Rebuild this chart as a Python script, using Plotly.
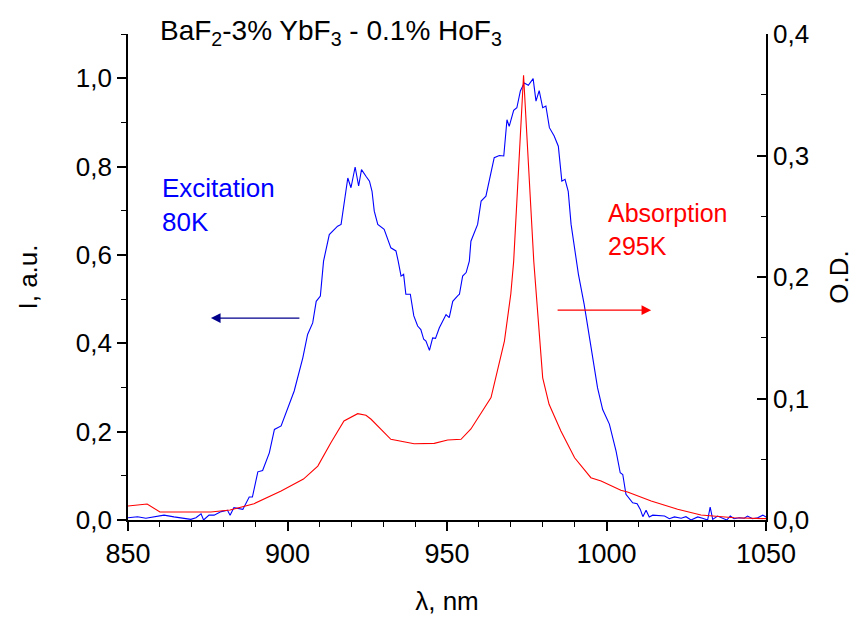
import plotly.graph_objects as go

# Excitation spectrum (80K), left axis, I (a.u.)
exc_wl = [850, 853, 855.6, 858, 861.3, 864.4, 867.5, 869.7, 871.3, 872.9, 873.7, 875.4, 877, 879.2,
          881.2, 882, 883.2, 886, 888, 889, 890.7, 892.2, 894.3, 895.9, 898, 900, 902.1, 904.8,
          906.3, 907.9, 909, 910.3, 911.3, 913.1, 915.7, 916.8, 918.9, 919.9, 921.2, 922.3, 923.2,
          924.6, 925.7, 926.5, 927.2, 928.3, 930.3, 932.4, 934, 934.7, 935.6, 936.4, 937.1, 938.5,
          939.6, 940.8, 941.8, 942.7, 943.4, 944.5, 945.5, 946.4, 947.6, 949.2, 949.7, 950.7, 951.8,
          953.4, 953.9, 954.9, 956, 957, 957.5, 959.6, 960.7, 962.2, 963.3, 964.8, 966.4, 967.8,
          968.8, 969.5, 970.9, 971.9, 973, 974.2, 975.5, 977, 977.9, 978.9, 980, 981, 982.1, 983.6,
          984.9, 986, 987, 988, 988.9, 990.4, 991.2, 993, 995.1, 997.2, 998.8, 1000.9, 1003, 1004.3,
          1005.1, 1006.1, 1008.2, 1009.6, 1010.6, 1011.4, 1012.4, 1013.4, 1014.5, 1016.6, 1018.2,
          1019.7, 1021.3, 1023.4, 1024.9, 1026.5, 1028.6, 1030.1, 1031.7, 1032.5, 1033.3, 1034.8,
          1036.4, 1037.7, 1038.8, 1040, 1041.6, 1043.2, 1044.2, 1045.8, 1047.4, 1049, 1050]
exc_int = [0.005, 0.0075, 0.004, 0.007, 0.011, 0.007, 0.003, 0.0015, 0.005, 0.014, 0.0, 0.011, 0.011,
           0.019, 0.022, 0.011, 0.028, 0.024, 0.052, 0.052, 0.109, 0.112, 0.152, 0.205, 0.213, 0.254,
           0.292, 0.367, 0.42, 0.446, 0.495, 0.507, 0.586, 0.646, 0.665, 0.669, 0.774, 0.752, 0.799,
           0.756, 0.793, 0.778, 0.767, 0.744, 0.699, 0.669, 0.658, 0.616, 0.609, 0.586, 0.552, 0.556,
           0.511, 0.511, 0.462, 0.439, 0.431, 0.409, 0.405, 0.384, 0.412, 0.411, 0.435, 0.458, 0.465,
           0.458, 0.495, 0.508, 0.511, 0.552, 0.56, 0.586, 0.631, 0.669, 0.722, 0.733, 0.767, 0.82,
           0.825, 0.824, 0.906, 0.891, 0.927, 0.933, 0.971, 0.989, 0.984, 0.999, 0.948, 0.972, 0.933,
           0.937, 0.888, 0.869, 0.846, 0.767, 0.771, 0.744, 0.669, 0.6, 0.556, 0.488, 0.397, 0.299,
           0.25, 0.217, 0.156, 0.107, 0.103, 0.058, 0.039, 0.037, 0.024, 0.0075, 0.022, 0.007, 0.011,
           0.009, 0.009, 0.003, 0.007, 0.004, 0.0075, 0.0, 0.007, 0.004, 0.0, 0.029, 0.0015, 0.009,
           0.005, 0.0, 0.009, 0.003, 0.005, 0.004, 0.009, 0.003, 0.005, 0.011, 0.007]

# Absorption spectrum (295K), right axis, O.D.
abs_wl = [850, 856, 860, 876, 882, 889.5, 898, 905, 909.5, 913.6, 917.7, 922, 924.6, 926.2, 932.4,
          939.7, 946, 950.2, 954.4, 957.5, 963.8, 968, 970, 970.9, 974, 977.2, 980, 982, 985.7, 990,
          995.1, 998.3, 1004.5, 1006.6, 1014, 1022.3, 1029.6, 1040, 1050]
abs_od = [0.0115, 0.0132, 0.0066, 0.0066, 0.0082, 0.0134, 0.0239, 0.0337, 0.0444, 0.0636, 0.0815,
          0.0875, 0.0862, 0.0829, 0.0664, 0.0628, 0.0631, 0.0658, 0.0664, 0.0749, 0.1007, 0.1473,
          0.186, 0.213, 0.366, 0.213, 0.117, 0.0952, 0.0733, 0.0512, 0.0348, 0.0321, 0.0245, 0.023,
          0.0156, 0.0088, 0.0041, 0.0019, 0.0011]

x_ticks = [850, 900, 950, 1000, 1050]

FONT = "Liberation Sans, Arial, sans-serif"
FS = 25

fig = go.Figure()
fig.add_trace(go.Scatter(x=exc_wl, y=exc_int, mode="lines",
                         line=dict(color="#0000FF", width=1.1), yaxis="y", showlegend=False))
fig.add_trace(go.Scatter(x=abs_wl, y=abs_od, mode="lines",
                         line=dict(color="#FF0000", width=1.1), yaxis="y2", showlegend=False))

axis_common = dict(showgrid=False, zeroline=False, showline=True, linecolor="black", linewidth=1.6,
                   tickcolor="black", tickwidth=1.6, ticklen=9)

fig.update_layout(
    width=858, height=620,
    margin=dict(l=120, r=100, t=26, b=108),
    paper_bgcolor="white", plot_bgcolor="white",
    separators=",.",
    font=dict(family=FONT, size=FS, color="black"),
    xaxis=dict(range=[850, 1050], tickvals=x_ticks, ticks="outside",
               tickfont=dict(family=FONT, size=27, color="black"),
               minor=dict(dtick=10, ticks="outside", ticklen=5, tickwidth=1.4, tickcolor="black"),
               title=dict(text="λ, nm", font=dict(family=FONT, size=26), standoff=24),
               **axis_common),
    yaxis=dict(range=[0, 1.1], dtick=0.2, tick0=0, tickformat=".1f", ticks="outside",
               tickfont=dict(family=FONT, size=26, color="black"),
               minor=dict(dtick=0.1, ticks="outside", ticklen=5, tickwidth=1.4, tickcolor="black"),
               title=dict(text="I, a.u.", font=dict(family=FONT, size=26), standoff=31),
               **axis_common),
    yaxis2=dict(range=[0, 0.4], dtick=0.1, tick0=0, tickformat=".1f", ticks="inside",
                overlaying="y", side="right", anchor="x",
                tickfont=dict(family=FONT, size=26, color="black"),
                minor=dict(dtick=0.05, ticks="inside", ticklen=5, tickwidth=1.4, tickcolor="black"),
                title=dict(text="O.D.", font=dict(family=FONT, size=26), standoff=22),
                **axis_common),
)

annotations = [
    dict(text="BaF<sub>2</sub>-3% YbF<sub>3</sub> - 0.1% HoF<sub>3</sub>", xref="x", yref="paper",
         x=859.3, y=1.004, xanchor="left", yanchor="middle", showarrow=False,
         font=dict(family=FONT, size=28, color="black")),
    dict(text="Excitation<br>80K", xref="x", yref="y", x=860, y=0.713, xanchor="left",
         yanchor="middle", align="left", showarrow=False,
         font=dict(family=FONT, size=26, color="#0000FF")),
    dict(text="Absorption<br>295K", xref="x", yref="y", x=999.8, y=0.658, xanchor="left",
         yanchor="middle", align="left", showarrow=False,
         font=dict(family=FONT, size=25, color="#FF0000")),
    dict(text="", xref="x", yref="y", x=876, y=0.457, axref="x", ayref="y", ax=904.2, ay=0.457,
         showarrow=True, arrowhead=2, arrowsize=1.6, arrowwidth=1.2, arrowcolor="#00008B"),
    dict(text="", xref="x", yref="y", x=1014, y=0.475, axref="x", ayref="y", ax=984.2, ay=0.475,
         showarrow=True, arrowhead=2, arrowsize=1.6, arrowwidth=1.2, arrowcolor="#FF0000"),
]
fig.update_layout(annotations=annotations)

fig.write_html("out.html")
